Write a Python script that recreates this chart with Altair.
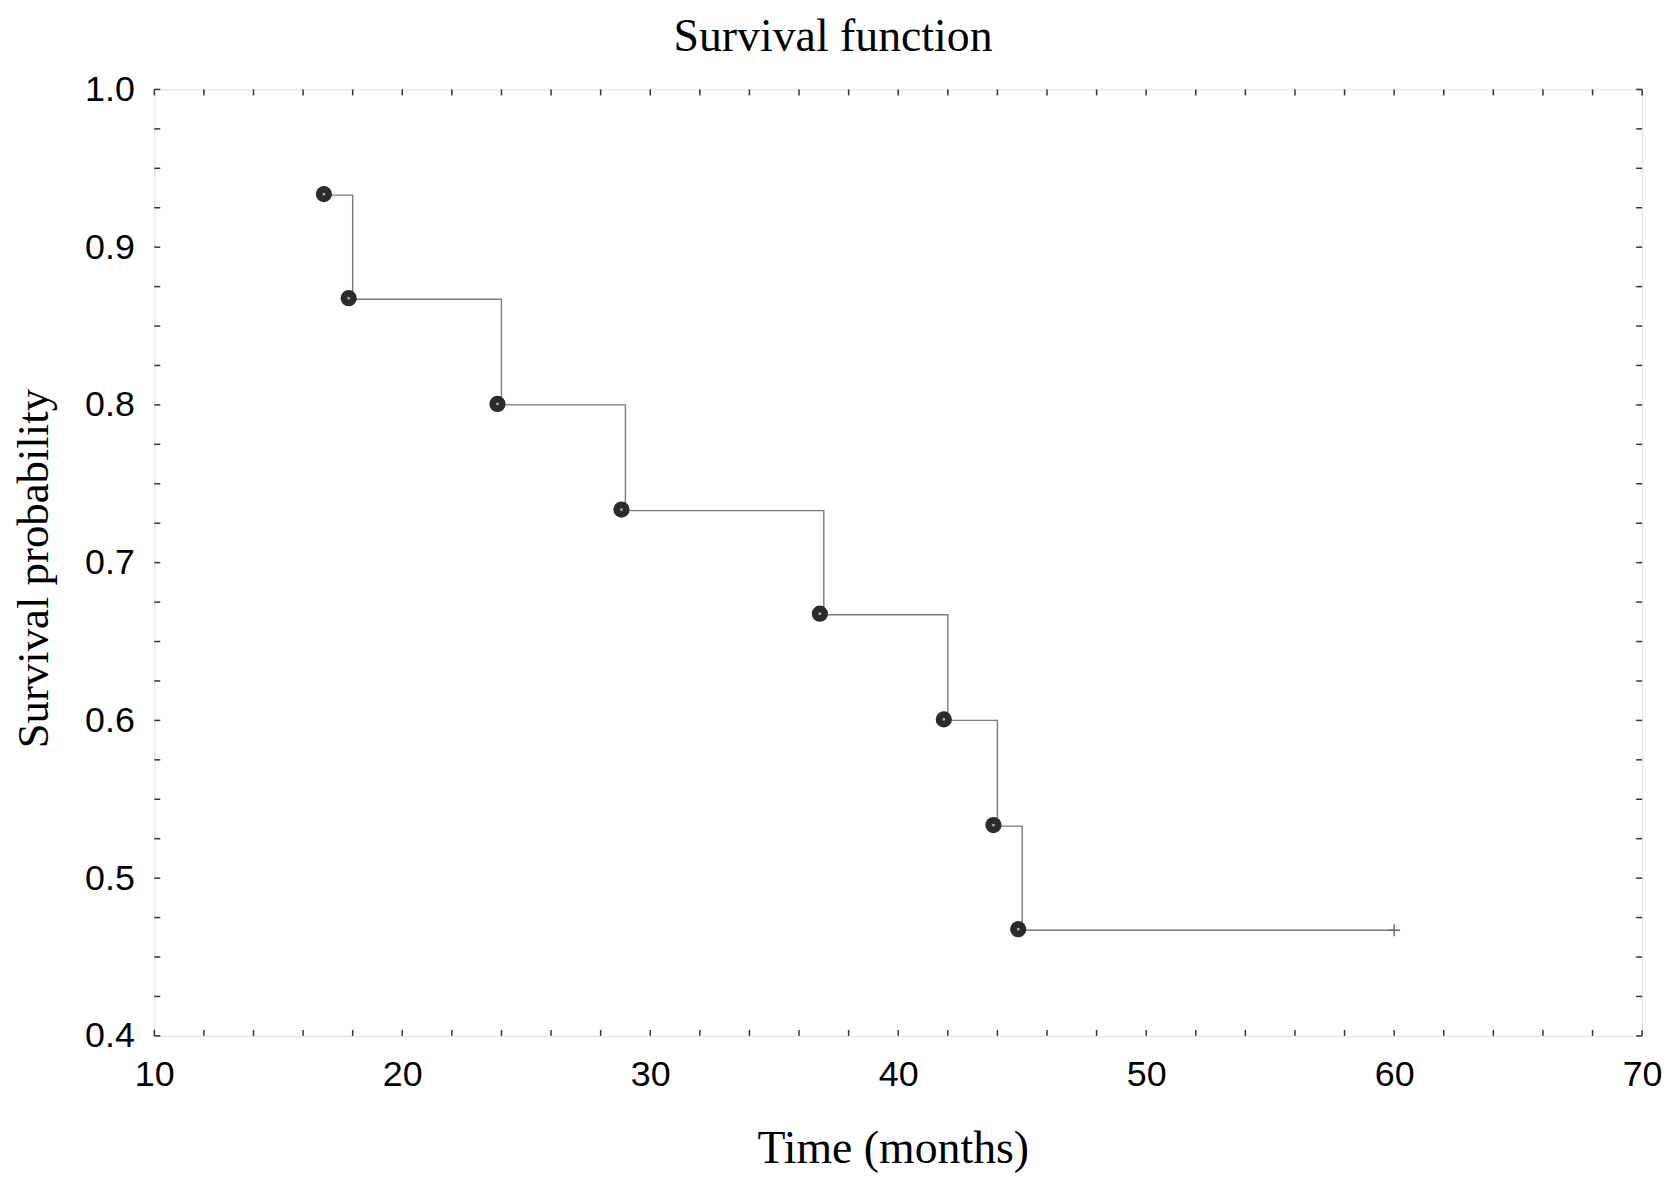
import altair as alt
import pandas as pd

# Kaplan-Meier survival data
event_times = [17, 18, 24, 29, 37, 42, 44, 45]
survival = [0.933, 0.867, 0.800, 0.733, 0.667, 0.600, 0.533, 0.467]
censor_times = [60]
censor_survival = [0.467]

chart_title = ["Survival function"]
x_label_values = [10, 20, 30, 40, 50, 60, 70]
y_label_values = [0.4, 0.5, 0.6, 0.7, 0.8, 0.9, 1.0]
x_minor_ticks = list(range(10, 71, 2))
y_minor_ticks = [round(0.4 + 0.025 * i, 3) for i in range(25)]

W, H = 1495, 951
TICK = 6
FRAME = "#333333"

step_df = pd.DataFrame({
    "x": event_times + censor_times,
    "y": survival + censor_survival,
})
pts_df = pd.DataFrame({"x": event_times, "y": survival})
cens_df = pd.DataFrame({"x": censor_times, "y": censor_survival})
xt_df = pd.DataFrame({"x": x_minor_ticks})
yt_df = pd.DataFrame({"y": y_minor_ticks})
title_df = pd.DataFrame({"t": chart_title})

xscale = alt.Scale(domain=[10, 70], nice=False, zero=False)
yscale = alt.Scale(domain=[0.4, 1.0], nice=False, zero=False)

xaxis = alt.Axis(
    values=x_label_values, format="d", ticks=False, tickSize=0, domain=False, grid=False,
    labelFont="Liberation Sans", labelFontSize=36, labelColor="black",
    labelBaseline="alphabetic", labelPadding=50, labelFlush=False,
    title="Time (months)", titleFont="Liberation Serif", titleFontSize=46,
    titleFontWeight="normal", titleColor="black", titleX=742, titleY=127,
    titleBaseline="alphabetic", titleAlign="center",
)
yaxis = alt.Axis(
    values=y_label_values, format=".1f", ticks=False, tickSize=0, domain=False, grid=False,
    labelFont="Liberation Sans", labelFontSize=36, labelColor="black",
    labelBaseline="middle", labelAlign="right", labelPadding=20, labelFlush=False,
    title="Survival probability", titleFont="Liberation Serif", titleFontSize=45,
    titleFontWeight="normal", titleColor="black", titleX=-107, titleY=481,
    titleAngle=-90, titleBaseline="alphabetic", titleAlign="center",
)

X = alt.X("x:Q", scale=xscale, axis=xaxis)
Y = alt.Y("y:Q", scale=yscale, axis=yaxis)

step = alt.Chart(step_df).mark_line(
    interpolate="step-after", color="#7a7a7a", strokeWidth=1.4
).encode(x=X, y=Y)

dots = alt.Chart(pts_df).mark_point(
    shape="circle", filled=True, size=265, color="#2b2b2b", opacity=1,
    xOffset=-4, yOffset=-1
).encode(x=X, y=Y)

inner = alt.Chart(pts_df).mark_point(
    shape="square", filled=True, size=6, color="#b0b0b0", opacity=1,
    xOffset=-4, yOffset=-1
).encode(x=X, y=Y)

cross = alt.Chart(cens_df).mark_point(
    shape="M-1,0L1,0M0,-1L0,1", filled=False, size=144, color="#666666",
    strokeWidth=1.4, opacity=1
).encode(x=X, y=Y)

xt_bottom = alt.Chart(xt_df).mark_rule(color=FRAME, strokeWidth=1.5).encode(
    x=X, y=alt.value(H - TICK), y2=alt.value(H)
)
xt_top = alt.Chart(xt_df).mark_rule(color=FRAME, strokeWidth=1.5).encode(
    x=X, y=alt.value(0), y2=alt.value(TICK)
)
yt_left = alt.Chart(yt_df).mark_rule(color=FRAME, strokeWidth=1.5).encode(
    y=Y, x=alt.value(0), x2=alt.value(TICK)
)
yt_right = alt.Chart(yt_df).mark_rule(color=FRAME, strokeWidth=1.5).encode(
    y=Y, x=alt.value(W - TICK), x2=alt.value(W)
)

title = alt.Chart(title_df).mark_text(
    font="Liberation Serif", fontSize=46, color="black", align="center",
    baseline="alphabetic"
).encode(text="t:N", x=alt.value(682), y=alt.value(48 - 87))

chart = alt.layer(
    xt_bottom, xt_top, yt_left, yt_right, step, dots, inner, cross, title
).properties(
    width=W, height=H,
    autosize=alt.AutoSizeParams(type="none"),
    padding={"left": 147, "top": 79, "right": 27, "bottom": 140},
).configure_view(
    stroke=FRAME, strokeWidth=1.6
).configure(background="white")

chart.save("out.html", embed_options={"renderer": "svg", "actions": False})
